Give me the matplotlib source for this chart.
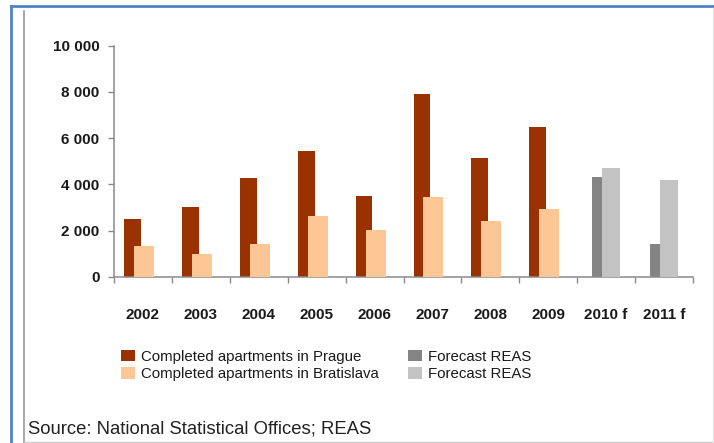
import numpy as np
import matplotlib
matplotlib.use("Agg")
import matplotlib.pyplot as plt
from matplotlib.lines import Line2D
from matplotlib.patches import Patch

categories = ["2002", "2003", "2004", "2005", "2006", "2007", "2008", "2009", "2010 f", "2011 f"]
prague = [2480, 3000, 4270, 5450, 3510, 7910, 5150, 6490]
bratislava = [1340, 1000, 1430, 2630, 2020, 3440, 2410, 2930]
forecast_dark = [4330, 1430]
forecast_light = [4700, 4170]
yticks = [0, 2000, 4000, 6000, 8000, 10000]
ytick_labels = ["0", "2 000", "4 000", "6 000", "8 000", "10 000"]
legend_labels = ["Completed apartments in Prague", "Completed apartments in Bratislava",
                 "Forecast REAS", "Forecast REAS"]
source_text = "Source: National Statistical Offices; REAS"

c_prague = "#9A3100"
c_brat = "#FCC794"
c_fdark = "#848484"
c_flight = "#C3C3C3"

plt.rcParams['font.family'] = ['Liberation Sans', 'DejaVu Sans']

W, H = 714, 443
fig = plt.figure(figsize=(W / 100, H / 100), dpi=100)
ax = fig.add_axes([114 / W, 1 - 276.7 / H, (693 - 114) / W, (276.7 - 45.7) / H])

x = np.arange(len(categories))
n_hist = len(prague)
n_fc = len(forecast_dark)
xh = x[:n_hist]
xf = x[n_hist:n_hist + n_fc]

ax.bar(xh - 0.181, prague, width=0.29, color=c_prague, zorder=2)
ax.bar(xh + 0.017, bratislava, width=0.345, color=c_brat, zorder=3)
ax.bar(xf - 0.105, forecast_dark, width=0.29, color=c_fdark, zorder=2)
ax.bar(xf + 0.085, forecast_light, width=0.32, color=c_flight, zorder=3)

ax.set_xlim(-0.5, len(categories) - 0.5)
ax.set_ylim(0, 10000)

for s in ["top", "right"]:
    ax.spines[s].set_visible(False)
for s in ["left", "bottom"]:
    ax.spines[s].set_color("#8a8a8a")
    ax.spines[s].set_linewidth(1.1)

ax.set_yticks(yticks)
ax.set_yticklabels(ytick_labels)
ax.tick_params(axis="y", length=4.5, width=1.0, color="#8a8a8a", pad=6,
               labelsize=11, labelcolor="#1a1a1a")
for t in ax.get_yticklabels():
    t.set_fontweight("bold")

ax.set_xticks(np.arange(-0.5, len(categories), 1.0))
ax.set_xticklabels([])
ax.set_xticks(x, minor=True)
ax.set_xticklabels(categories, minor=True)
ax.tick_params(axis="x", which="major", length=4, width=1.0, color="#8a8a8a")
ax.tick_params(axis="x", which="minor", length=0, pad=22.5, labelsize=11, labelcolor="#1a1a1a")
for t in ax.get_xticklabels(minor=True):
    t.set_fontweight("bold")

handles = [Patch(facecolor=c_prague), Patch(facecolor=c_brat),
           Patch(facecolor=c_fdark), Patch(facecolor=c_flight)]
leg = fig.legend(handles, legend_labels, ncol=2, loc="upper left",
                 bbox_to_anchor=(121 / W, 1 - 349.5 / H), frameon=False,
                 fontsize=10.8, handlelength=0.93, handleheight=0.85,
                 handletextpad=0.4, labelspacing=0.22, columnspacing=1.93,
                 borderpad=0.0, borderaxespad=0.0)
for t in leg.get_texts():
    t.set_color("#1a1a1a")

fig.text(28 / W, 1 - 434 / H, source_text, fontsize=13.3, color="#222222",
         va="baseline", ha="left")

# frame lines
fig.add_artist(Line2D([11 / W, 1.0], [1 - 6 / H, 1 - 6 / H], color="#4F81C8", lw=2.0))
fig.add_artist(Line2D([11 / W, 11 / W], [0, 1 - 6 / H], color="#4F81C8", lw=2.0))
fig.add_artist(Line2D([24 / W, 24 / W], [0, 1 - 11 / H], color="#9a9a9a", lw=1.2))
fig.add_artist(Line2D([24 / W, 1.0], [1 / H, 1 / H], color="#cfcfcf", lw=1.0))
fig.add_artist(Line2D([712.5 / W, 712.5 / W], [0, 1 - 8 / H], color="#e6e6e6", lw=1.0))

fig.savefig("out.png", dpi=100)
